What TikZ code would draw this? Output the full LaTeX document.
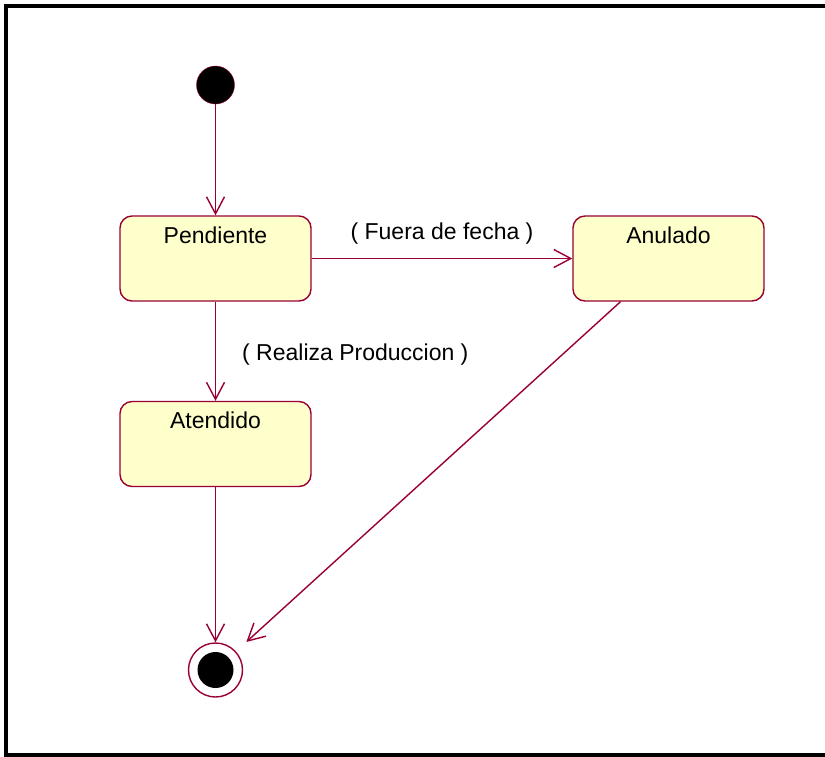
\documentclass[tikz,border=0pt]{standalone}
\usepackage{fontspec}
\setmainfont{Liberation Sans}
\usetikzlibrary{arrows.meta,positioning}
\definecolor{umlline}{RGB}{153,0,51}
\definecolor{umlfill}{RGB}{255,255,204}

\begin{document}
\begin{tikzpicture}[x=1pt,y=-1pt,
    every node/.style={font=\fontsize{23}{27}\selectfont},
    state/.style={draw=umlline, line width=1.4pt, fill=umlfill, rounded corners=12pt, minimum width=191pt, minimum height=85pt},
    statename/.style={anchor=north, inner sep=0pt, yshift=-11pt},
    trans/.style={draw=umlline, line width=1.4pt, -{Straight Barb[length=17pt,width=18pt,line width=1.4pt]}},
    guard/.style={inner sep=0pt}]
    \useasboundingbox (0,0) rectangle (825,756);
    \draw[line width=4pt] (825,6) -- (6,6) -- (6,754.5) -- (825,754.5);

    % states
    \node[circle, draw=umlline, fill=black, minimum size=38pt, inner sep=0pt] (ini) at (215.5,85) {};
    \node[state, label={[statename]north:Pendiente}] (pend) at (215.5,258.5) {};
    \node[state, label={[statename]north:Anulado}] (anul) at (668.5,258.5) {};
    \node[state, label={[statename]north:Atendido}] (aten) at (215.5,444) {};
    \node[circle, draw=umlline, line width=1.4pt, fill=white, minimum size=54pt, inner sep=0pt] (fin) at (215.5,670) {};
    \fill[black] (fin) circle (18pt);
    \coordinate (anulfoot) at ([xshift=-48pt]anul.south);

    % transitions
    \draw[trans] (ini) -- (pend);
    \draw[trans] (pend) -- (anul) node[guard, midway, above=14pt] {( Fuera de fecha )};
    \draw[trans] (pend) -- (aten) node[guard, midway, right=26pt, yshift=-3pt] {( Realiza Produccion )};
    \draw[trans] (aten) -- (fin);
    \draw[trans, shorten >=14pt] (anulfoot) -- (fin);
\end{tikzpicture}
\end{document}
